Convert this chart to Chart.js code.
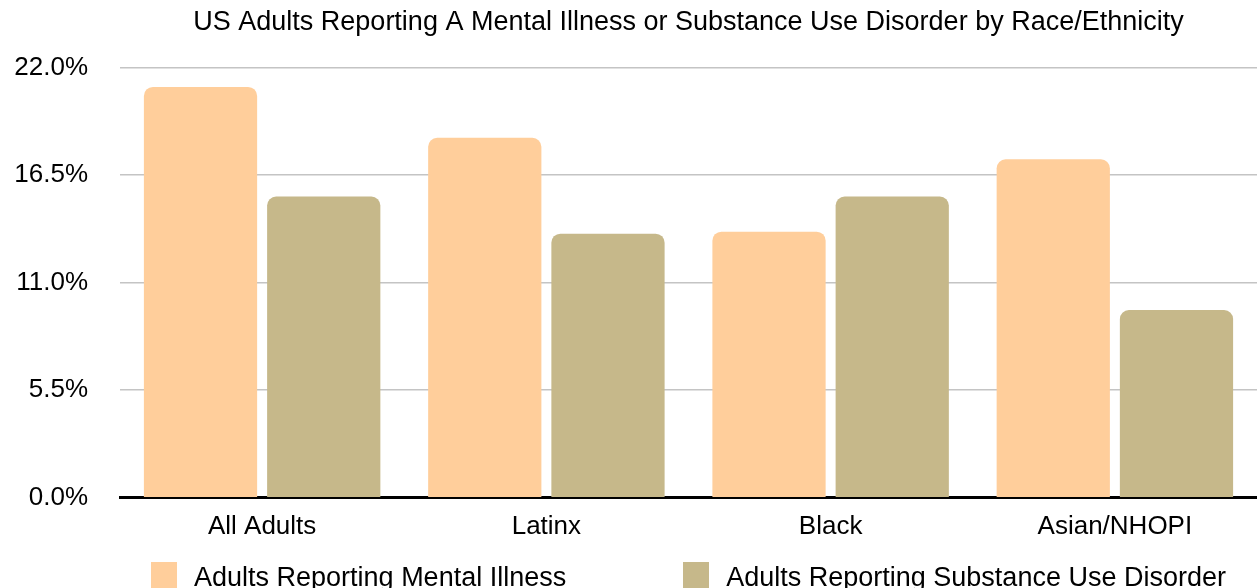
<!DOCTYPE html>
<html>
<head>
<meta charset="utf-8">
<title>US Adults Reporting A Mental Illness or Substance Use Disorder</title>
<script src="https://cdn.jsdelivr.net/npm/chart.js@4.4.1/dist/chart.umd.min.js"></script>
<style>
  html, body { margin: 0; padding: 0; background: #fff; overflow: hidden; }
  #wrap { position: relative; width: 1257px; height: 588px; overflow: hidden; }
  #legend {
    position: absolute; top: 562px;
    display: flex; justify-content: center; gap: 117px;
    font-family: "Liberation Sans", Arial, sans-serif; font-size: 27px; color: #000;
  }
  #legend .item { display: flex; align-items: flex-start; white-space: nowrap; }
  #legend .swatch { width: 26px; height: 26px; margin-right: 17px; flex: none; }
  #legend .label { line-height: 30px; }
</style>
</head>
<body>
<div id="wrap">
  <canvas id="myChart" width="1257" height="588"></canvas>
  <div id="legend"></div>
</div>
<script>
// chart data
const categories = ['All Adults', 'Latinx', 'Black', 'Asian/NHOPI'];
const mentalIllness = [21.0, 18.4, 13.6, 17.3];
const substanceUse = [15.4, 13.5, 15.4, 9.6];
const yTicks = [0, 5.5, 11, 16.5, 22];

const seriesNames = ['Adults Reporting Mental Illness', 'Adults Reporting Substance Use Disorder'];
const seriesColors = ['#FFCE9B', '#C6B88A'];

const FONT = '"Liberation Sans", Arial, sans-serif';

// html legend, built from the chart's own legend items
const htmlLegend = {
  id: 'htmlLegend',
  afterUpdate(chart) {
    const box = document.getElementById('legend');
    box.style.left = chart.chartArea.left + 'px';
    box.style.width = (chart.chartArea.right - chart.chartArea.left) + 'px';
    box.innerHTML = '';
    const items = chart.options.plugins.legend.labels.generateLabels(chart);
    items.forEach(item => {
      const el = document.createElement('div');
      el.className = 'item';
      const sw = document.createElement('span');
      sw.className = 'swatch';
      sw.style.background = item.fillStyle;
      const txt = document.createElement('span');
      txt.className = 'label';
      txt.textContent = item.text;
      el.appendChild(sw);
      el.appendChild(txt);
      box.appendChild(el);
    });
  }
};

const ctx = document.getElementById('myChart').getContext('2d');
const myChart = new Chart(ctx, {
  type: 'bar',
  data: {
    labels: categories,
    datasets: [{
      label: seriesNames[0],
      data: mentalIllness,
      backgroundColor: seriesColors[0],
      borderRadius: 9,
      borderSkipped: 'start'
    }, {
      label: seriesNames[1],
      data: substanceUse,
      backgroundColor: seriesColors[1],
      borderRadius: 9,
      borderSkipped: 'start'
    }]
  },
  options: {
    responsive: false,
    animation: false,
    devicePixelRatio: 1,
    categoryPercentage: 0.867,
    barPercentage: 0.919,
    layout: { padding: { left: 0, right: 0, top: 0, bottom: 41 } },
    plugins: {
      legend: { display: false },
      tooltip: { enabled: false },
      title: {
        display: true,
        text: 'US Adults Reporting A Mental Illness or Substance Use Disorder by Race/Ethnicity',
        fullSize: false,
        color: '#000',
        font: { family: FONT, size: 27, weight: 'normal' },
        padding: { top: 6, bottom: 29 }
      }
    },
    scales: {
      x: {
        grid: { display: false },
        border: { display: true, color: '#000', width: 3 },
        ticks: { color: '#000', font: { family: FONT, size: 26 }, padding: 5 }
      },
      y: {
        min: 0,
        max: 22,
        afterBuildTicks: scale => { scale.ticks = yTicks.map(v => ({ value: v })); },
        afterFit: scale => { scale.width = 120; },
        grid: { color: '#c4c4c4', lineWidth: 1.5, drawTicks: false },
        border: { display: false },
        ticks: {
          color: '#000',
          font: { family: FONT, size: 26 },
          padding: 32,
          callback: v => v.toFixed(1) + '%'
        }
      }
    }
  },
  plugins: [htmlLegend]
});
</script>
</body>
</html>
